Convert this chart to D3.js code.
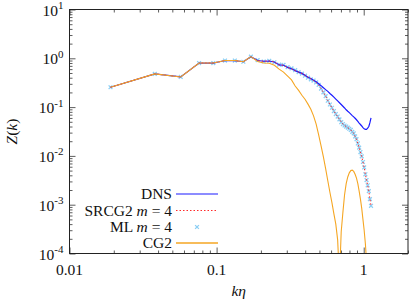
<!DOCTYPE html>
<html>
<head>
<meta charset="utf-8">
<script src="https://cdn.jsdelivr.net/npm/d3@7"></script>
<style>
  body { margin: 0; background: #fff; }
</style>
</head>
<body>
<div id="chart"></div>
<script>
(function () {
  "use strict";

  // wavenumber grid (k * eta)
  const kEta = [
    0.019, 0.038, 0.057, 0.076, 0.095, 0.114, 0.133, 0.152, 0.171, 0.19,
    0.209, 0.228, 0.247, 0.266, 0.285, 0.304, 0.323, 0.342, 0.361, 0.38,
    0.399, 0.418, 0.437, 0.456, 0.475, 0.494, 0.513, 0.532, 0.551, 0.57,
    0.589, 0.608, 0.627, 0.646, 0.665, 0.684, 0.703, 0.722, 0.741, 0.76,
    0.779, 0.798, 0.817, 0.836, 0.855, 0.874, 0.893, 0.912, 0.931, 0.95,
    0.969, 0.988, 1.007, 1.026, 1.045, 1.064, 1.083, 1.102, 1.121
  ];

  const dns = [
    0.255, 0.48, 0.415, 0.80, 0.80, 0.90, 0.90, 0.85, 1.08, 0.90,
    0.87, 0.88, 0.84, 0.73, 0.72, 0.65, 0.61, 0.56, 0.52, 0.49,
    0.45, 0.41, 0.385, 0.355, 0.33, 0.30, 0.275, 0.25, 0.228, 0.21,
    0.19, 0.175, 0.16, 0.146, 0.134, 0.123, 0.113, 0.104, 0.096, 0.088,
    0.082, 0.077, 0.072, 0.067, 0.063, 0.059, 0.055, 0.051, 0.047, 0.044,
    0.041, 0.038, 0.036, 0.035, 0.035, 0.037, 0.040, 0.048, 0.060
  ];

  const srcg2 = [
    0.255, 0.48, 0.415, 0.80, 0.80, 0.90, 0.90, 0.85, 1.08, 0.90,
    0.87, 0.88, 0.84, 0.73, 0.72, 0.65, 0.61, 0.56, 0.52, 0.49,
    0.45, 0.41, 0.38, 0.35, 0.32, 0.285, 0.24, 0.20, 0.168, 0.136,
    0.114, 0.097, 0.083, 0.072, 0.064, 0.056, 0.050, 0.045, 0.042, 0.040,
    0.038, 0.036, 0.034, 0.031, 0.029, 0.025, 0.022, 0.018, 0.0148, 0.012,
    0.0097, 0.0075, 0.0058, 0.0042, 0.0032, 0.0025, 0.0019, 0.0013, 0.00097
  ];

  const ml = [
    0.255, 0.48, 0.415, 0.80, 0.80, 0.90, 0.90, 0.85, 1.08, 0.92,
    0.86, 0.89, 0.83, 0.74, 0.73, 0.66, 0.62, 0.57, 0.52, 0.485,
    0.44, 0.40, 0.37, 0.35, 0.32, 0.285, 0.24, 0.20, 0.168, 0.135,
    0.113, 0.097, 0.083, 0.072, 0.064, 0.056, 0.049, 0.045, 0.042, 0.040,
    0.038, 0.036, 0.034, 0.031, 0.029, 0.025, 0.022, 0.018, 0.0148, 0.012,
    0.0098, 0.0075, 0.0058, 0.0042, 0.0032, 0.0025, 0.0019, 0.0013, 0.00095
  ];

  const cg2 = [
    0.255, 0.48, 0.415, 0.80, 0.80, 0.90, 0.90, 0.85, 1.08, 0.86,
    0.80, 0.79, 0.72, 0.60, 0.52, 0.43, 0.36, 0.27, 0.22, 0.175,
    0.145, 0.115, 0.09, 0.066, 0.045, 0.027, 0.016, 0.0095, 0.0055, 0.0031,
    0.0018, 0.0011, 0.00065, 0.0004, 0.00019, 0.00003, 0.00028, 0.0007, 0.0016, 0.0027,
    0.0037, 0.0045, 0.0050, 0.0051, 0.0048, 0.0042, 0.0035, 0.0027, 0.0019, 0.0013,
    0.00085, 0.0005, 0.0003, 0.00016, 0.00007, 0.00002, 0.000001, 0.00001, 0.00003
  ];

  const xTickValues = [0.01, 0.1, 1];
  const xTickLabels = ["0.01", "0.1", "1"];
  const yTickExponents = [1, 0, -1, -2, -3, -4];

  const width = 409;
  const height = 304;
  const left = 69.5, right = 408, top = 9.5, bottom = 253.5;
  const serif = "'Liberation Serif', serif";
  const fs = 15.5;

  const svg = d3
    .select("#chart")
    .append("svg")
    .attr("width", width)
    .attr("height", height)
    .style("font-family", serif);

  const x = d3.scaleLog().domain([0.01, 2]).range([left, right]);
  const y = d3.scaleLog().domain([1e-4, 10]).range([bottom, top]);

  // clip for the curves
  svg
    .append("clipPath")
    .attr("id", "plot-clip")
    .append("rect")
    .attr("x", left)
    .attr("y", top)
    .attr("width", right - left)
    .attr("height", bottom - top);

  // ticks (inside, mirrored on all four sides)
  const isMajor = (v) => Math.abs(Math.log10(v) - Math.round(Math.log10(v))) < 1e-9;
  const xAll = x.ticks();
  const yAll = y.ticks();
  const xMinor = xAll.filter((v) => !isMajor(v));
  const yMinor = yAll.filter((v) => !isMajor(v));
  const xMajor = xAll.filter(isMajor);
  const yMajor = yAll.filter(isMajor);

  function tickAxis(axisFn, scale, values, size, pos, horizontal) {
    const g = svg
      .append("g")
      .attr("transform", horizontal ? `translate(0,${pos})` : `translate(${pos},0)`)
      .call(axisFn(scale).tickValues(values).tickSize(size).tickFormat(""));
    g.select(".domain").remove();
    g.selectAll("line").attr("stroke", "#333").attr("stroke-width", 0.8);
  }

  tickAxis(d3.axisBottom, x, xMajor, -6, bottom, true);
  tickAxis(d3.axisBottom, x, xMinor, -3, bottom, true);
  tickAxis(d3.axisTop, x, xMajor, -6, top, true);
  tickAxis(d3.axisTop, x, xMinor, -3, top, true);
  tickAxis(d3.axisLeft, y, yMajor, -6, left, false);
  tickAxis(d3.axisLeft, y, yMinor, -3, left, false);
  tickAxis(d3.axisRight, y, yMajor, -6, right, false);
  tickAxis(d3.axisRight, y, yMinor, -3, right, false);

  // curves
  const plot = svg.append("g").attr("clip-path", "url(#plot-clip)");

  const line = (vals) =>
    d3
      .line()
      .x((d, i) => x(kEta[i]))
      .y((d) => y(d))(vals);

  const cross = (cx, cy, r) =>
    `M${cx - r},${cy - r}L${cx + r},${cy + r}M${cx - r},${cy + r}L${cx + r},${cy - r}`;

  const mlColor = "#8ccff4";

  // ML markers underneath the lines
  plot
    .append("g")
    .selectAll("path")
    .data(ml)
    .join("path")
    .attr("d", (d, i) => cross(x(kEta[i]), y(d), 1.9))
    .attr("stroke", mlColor)
    .attr("stroke-width", 1.3)
    .attr("fill", "none");

  plot
    .append("path")
    .attr("d", line(dns))
    .attr("fill", "none")
    .attr("stroke", "#1a1aff")
    .attr("stroke-width", 1.2);

  plot
    .append("path")
    .attr("d", line(srcg2))
    .attr("fill", "none")
    .attr("stroke", "#ff2a2a")
    .attr("stroke-width", 1)
    .attr("stroke-dasharray", "1.5,2");

  plot
    .append("path")
    .attr("d", line(cg2))
    .attr("fill", "none")
    .attr("stroke", "#f5a623")
    .attr("stroke-width", 1.1);

  // frame
  svg
    .append("rect")
    .attr("x", left)
    .attr("y", top)
    .attr("width", right - left)
    .attr("height", bottom - top)
    .attr("fill", "none")
    .attr("stroke", "#222")
    .attr("stroke-width", 1);

  // x tick labels
  svg
    .append("g")
    .selectAll("text")
    .data(xTickValues)
    .join("text")
    .attr("x", (d) => x(d))
    .attr("y", bottom + 21)
    .attr("text-anchor", "middle")
    .attr("font-size", fs)
    .attr("fill", "#111")
    .text((d, i) => xTickLabels[i]);

  // y tick labels: 10^n
  const yLabels = svg
    .append("g")
    .selectAll("text")
    .data(yTickExponents)
    .join("text")
    .attr("x", left - 6)
    .attr("y", (d) => y(Math.pow(10, d)) + 6)
    .attr("text-anchor", "end")
    .attr("font-size", fs)
    .attr("fill", "#111");
  yLabels.append("tspan").text("10");
  yLabels
    .append("tspan")
    .attr("dy", -6.5)
    .attr("font-size", 11)
    .text((d) => (d < 0 ? "-" + Math.abs(d) : String(d)));

  // axis titles
  const xTitle = svg
    .append("text")
    .attr("x", (left + right) / 2)
    .attr("y", 296)
    .attr("text-anchor", "middle")
    .attr("font-size", fs)
    .attr("font-style", "italic")
    .attr("fill", "#111");
  xTitle.append("tspan").text("k");
  xTitle.append("tspan").text("η");

  const yTitle = svg
    .append("text")
    .attr("transform", `translate(17,${(top + bottom) / 2}) rotate(-90)`)
    .attr("text-anchor", "middle")
    .attr("font-size", fs)
    .attr("fill", "#111");
  yTitle.append("tspan").attr("font-style", "italic").text("Z");
  yTitle.append("tspan").text("(");
  yTitle.append("tspan").attr("font-style", "italic").text("k");
  yTitle.append("tspan").text(")");

  // legend
  const legendRows = [
    { name: "DNS", italic: "", rest: "", kind: "line", color: "#1a1aff", dash: null, w: 1.2 },
    { name: "SRCG2 ", italic: "m", rest: " = 4", kind: "line", color: "#ff2a2a", dash: "1.5,2", w: 1 },
    { name: "ML ", italic: "m", rest: " = 4", kind: "mark", color: mlColor, dash: null, w: 1.3 },
    { name: "CG2", italic: "", rest: "", kind: "line", color: "#f5a623", dash: null, w: 1.3 }
  ];
  const legendY = [194, 210.5, 227, 243];

  const legend = svg
    .append("g")
    .selectAll("g")
    .data(legendRows)
    .join("g")
    .attr("transform", (d, i) => `translate(0,${legendY[i]})`);

  const legendText = legend
    .append("text")
    .attr("x", 172)
    .attr("y", 5)
    .attr("text-anchor", "end")
    .attr("font-size", fs)
    .attr("fill", "#111");
  legendText.append("tspan").text((d) => d.name);
  legendText.append("tspan").attr("font-style", "italic").text((d) => d.italic);
  legendText.append("tspan").text((d) => d.rest);

  legend
    .filter((d) => d.kind === "line")
    .append("line")
    .attr("x1", 176)
    .attr("x2", 218)
    .attr("y1", 0)
    .attr("y2", 0)
    .attr("stroke", (d) => d.color)
    .attr("stroke-width", (d) => d.w)
    .attr("stroke-dasharray", (d) => d.dash);

  legend
    .filter((d) => d.kind === "mark")
    .append("path")
    .attr("d", cross(197, 0, 1.9))
    .attr("stroke", (d) => d.color)
    .attr("stroke-width", (d) => d.w)
    .attr("fill", "none");
})();
</script>
</body>
</html>
